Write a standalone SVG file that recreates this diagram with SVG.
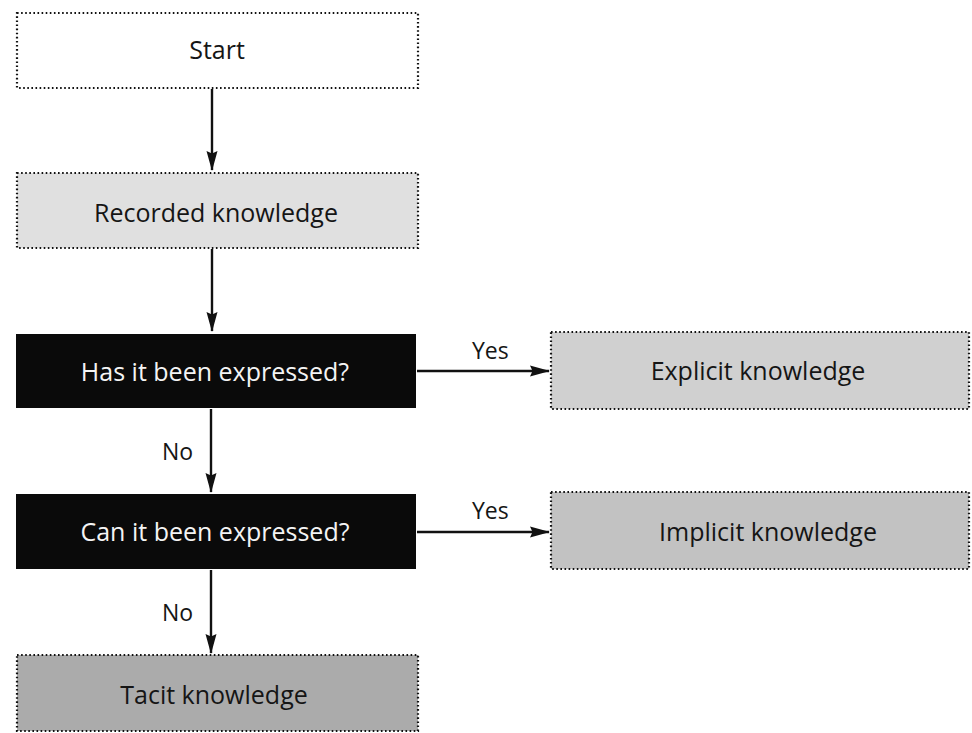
<svg xmlns="http://www.w3.org/2000/svg" width="972" height="733" viewBox="0 0 972 733">
  <defs>
    <marker id="arrow" markerWidth="20" markerHeight="12" refX="19" refY="6" orient="auto" markerUnits="userSpaceOnUse">
      <path d="M0,0.5 L20,6 L0,11.5 L2.5,6 Z" fill="#111"/>
    </marker>
  </defs>
  <style>
    .box { stroke: #111; stroke-width: 2.2; stroke-dasharray: 1.6 2.5; }
    .dark { fill: #0a0a0a; }
    .lbl { font-family: "Open Sans", "Noto Sans", sans-serif; font-size: 25px; text-anchor: middle; fill: #151515; }
    .inv { fill: #f4f4f4; }
    .edge { stroke: #111; stroke-width: 2.4; fill: none; marker-end: url(#arrow); }
    .tag { font-family: "Open Sans", "Noto Sans", sans-serif; font-size: 23px; fill: #151515; }
  </style>
  <rect width="972" height="733" fill="#ffffff"/>

  <g id="start">
    <rect class="box" x="17" y="13" width="401" height="75" fill="#ffffff"/>
    <text class="lbl" x="217" y="59">Start</text>
  </g>
  <g id="recorded">
    <rect class="box" x="17" y="173" width="401" height="75" fill="#e0e0e0"/>
    <text class="lbl" x="216" y="222">Recorded knowledge</text>
  </g>
  <g id="expressed">
    <rect class="dark" x="16" y="334" width="400" height="74"/>
    <text class="lbl inv" x="215" y="381">Has it been expressed?</text>
  </g>
  <g id="expressible">
    <rect class="dark" x="16" y="494" width="400" height="75"/>
    <text class="lbl inv" x="215" y="541">Can it been expressed?</text>
  </g>
  <g id="tacit">
    <rect class="box" x="17" y="655" width="401" height="76" fill="#ababab"/>
    <text class="lbl" x="214" y="704">Tacit knowledge</text>
  </g>
  <g id="explicit">
    <rect class="box" x="551" y="332" width="418" height="77" fill="#d0d0d0"/>
    <text class="lbl" x="758" y="380">Explicit knowledge</text>
  </g>
  <g id="implicit">
    <rect class="box" x="551" y="492" width="418" height="77" fill="#c2c2c2"/>
    <text class="lbl" x="768" y="541">Implicit knowledge</text>
  </g>

  <g id="connectors">
    <line class="edge" x1="212" y1="89" x2="212" y2="170"/>
    <line class="edge" x1="212" y1="249" x2="212" y2="331"/>
    <line class="edge" x1="211" y1="409" x2="211" y2="492"/>
    <line class="edge" x1="211" y1="570" x2="211" y2="653"/>
    <line class="edge" x1="417" y1="371" x2="549" y2="371"/>
    <line class="edge" x1="417" y1="532" x2="549" y2="532"/>
    <text class="tag" x="472" y="359">Yes</text>
    <text class="tag" x="472" y="519">Yes</text>
    <text class="tag" x="162" y="460">No</text>
    <text class="tag" x="162" y="621">No</text>
  </g>
</svg>
